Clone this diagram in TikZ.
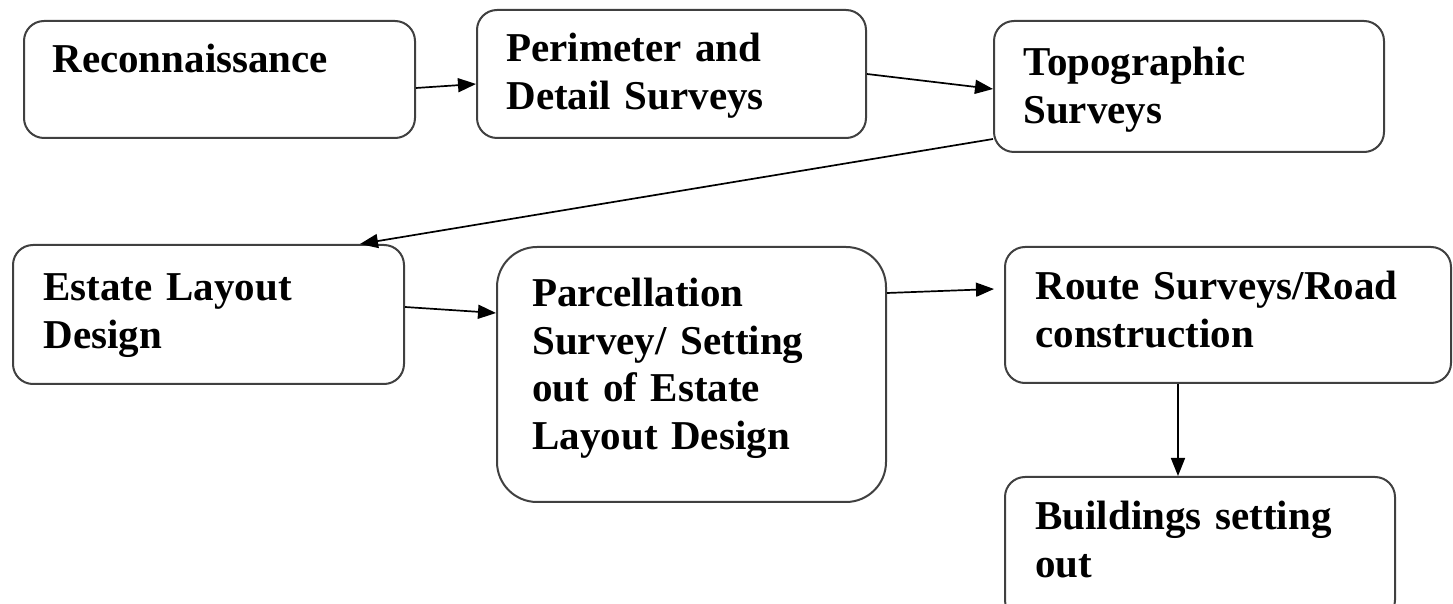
\documentclass[tikz,border=0pt]{standalone}
\usepackage{fontspec}
\setmainfont{Liberation Serif}
\usetikzlibrary{arrows.meta}
\tikzset{
  box/.style={draw=black!75, line width=1pt, rounded corners=10pt, inner sep=0pt, fill=white},
  bigbox/.style={box, rounded corners=20pt},
  boxtext/.style={anchor=base west, inner sep=0pt, text width=230pt, align=left,
    font=\fontsize{20.5}{23.75}\selectfont\bfseries},
  flow/.style={draw=black, line width=0.85pt, -{Triangle[length=9pt,width=7pt]}},
}
\begin{document}
\begin{tikzpicture}[x=0.5pt,y=-0.5pt]
\useasboundingbox (0,0) rectangle (1453,604);

% boxes
\node[box, minimum width=195.5pt, minimum height=58.5pt] (rec) at (219.5,79.5) {};
\node[box, minimum width=194.5pt, minimum height=64pt]   (per) at (671.5,74) {};
\node[box, minimum width=195pt,   minimum height=65.5pt] (top) at (1189,86.5) {};
\node[box, minimum width=195.5pt, minimum height=69.5pt] (est) at (208.5,314.5) {};
\node[bigbox, minimum width=194.5pt, minimum height=127.5pt] (par) at (691.5,374.5) {};
\node[box, minimum width=223pt,   minimum height=68pt]   (rou) at (1228,315) {};
\node[box, minimum width=195pt,   minimum height=71.5pt] (bui) at (1200,548.5) {};

% labels
\node[boxtext] (recT) at (52,73)   {Reconnaissance};
\node[boxtext] (perT) at (506,62)  {Perimeter and\\Detail Surveys};
\node[boxtext] (topT) at (1023,76) {Topographic\\Surveys};
\node[boxtext] (estT) at (43,301)  {Estate Layout\\Design};
\node[boxtext] (parT) at (532,307) {Parcellation\\Survey/ Setting\\out of Estate\\Layout Design};
\node[boxtext] (rouT) at (1035,300) {Route Surveys/Road\\construction};
\node[boxtext] (buiT) at (1035,530) {Buildings setting\\out};

% connectors
\draw[flow] ([yshift=-4.25pt]rec.east) -- ([yshift=-5pt]per.west);
\draw[flow] (per.east) -- ([yshift=-1.25pt]top.west);
\draw[flow] ([yshift=7pt]top.south west) -- ([xshift=75.75pt]est.north);
\draw[flow] ([yshift=3.75pt]est.east) -- ([yshift=30.75pt]par.west);
\draw[flow] ([yshift=40.75pt]par.east) -- ([xshift=-5pt,yshift=13pt]rou.west);
\draw[flow] ([xshift=-25pt]rou.south) -- ([xshift=-25pt]rou.south |- bui.north);
\end{tikzpicture}
\end{document}
